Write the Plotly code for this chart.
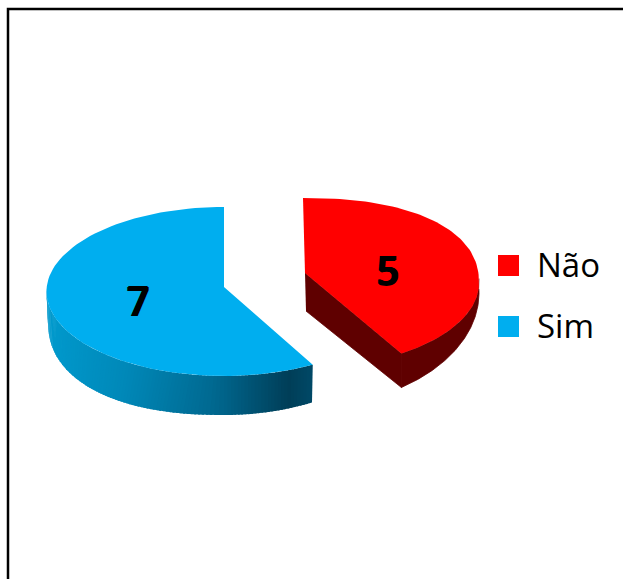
import math
import plotly.graph_objects as go

# ---- data ----
categories = ["Não", "Sim"]
values = [5, 7]

# ---- styles ----
top_colors = ["#FF0000", "#00AEEF"]
RED_WALL = "#5F0000"
BLUE_WALL_STOPS = [(50, (0, 153, 204)), (130, (0, 136, 184)), (213, (0, 106, 146)),
                   (290, (0, 62, 88)), (312, (0, 72, 102))]
FONT = "Open Sans"
W, H = 623, 579

# ---- view geometry of each exploded slice (pixel space) ----
views = {
    "Não": dict(cx=303, cy=283, rx=176, ry=85, ax=305, ay=273, brx=176, bcy=293, bry=114,
                bax=306, bay=311, warp=146 / 150, p_up=0.88, p_bot=1.0),
    "Sim": dict(cx=224, cy=291.5, rx=177.5, ry=84.5, ax=224, ay=287, brx=176, bcy=321, bry=94,
                bax=224, bay=325, warp=1.0, p_up=1.0, p_bot=0.88),
}


def rim(v, deg, bottom):
    t = math.radians(deg)
    s, c = math.sin(t), math.cos(t)
    if bottom:
        p = v["p_bot"] if s < 0 else 1.0      # fuller left flank of the lower rim
        cx, rx, cy, ry = v["cx"], v["brx"], v["bcy"], v["bry"]
    else:
        p = v["p_up"] if c > 0 else 1.0       # fuller far side of the top rim
        cx, rx, cy, ry = v["cx"], v["rx"], v["cy"], v["ry"]
    return (cx + rx * math.copysign(abs(s) ** p, s),
            cy - ry * math.copysign(abs(c) ** p, c))


def arc(v, a0, a1, bottom=False, n=90):
    pts = [rim(v, a0 + (a1 - a0) * i / n, bottom) for i in range(n + 1)]
    return [p[0] for p in pts], [p[1] for p in pts]


def blue_color(x):
    s = BLUE_WALL_STOPS
    if x <= s[0][0]:
        c = s[0][1]
    elif x >= s[-1][0]:
        c = s[-1][1]
    else:
        for (x0, c0), (x1, c1) in zip(s, s[1:]):
            if x0 <= x <= x1:
                f = (x - x0) / (x1 - x0)
                c = tuple(c0[k] + (c1[k] - c0[k]) * f for k in range(3))
                break
    return "rgb(%d,%d,%d)" % tuple(round(k) for k in c)


def poly(xs, ys, color, line=0.0):
    return go.Scatter(x=xs, y=ys, mode="lines", fill="toself", fillcolor=color,
                      line=dict(color=color, width=line), hoverinfo="skip", showlegend=False)


fig = go.Figure()
total = sum(values)
angle = 0.0
spans = []
for cat, val in zip(categories, values):
    spans.append((cat, angle, angle + 360.0 * val / total))
    angle += 360.0 * val / total

for cat, a0, a1 in spans:
    v = views[cat]
    if cat == "Sim":
        # outer wall as gradient strips, drawn left to right so each one covers the seam
        s0, s1 = 272.0, a0
        n = 110
        for i in range(n):
            b0 = s0 + (s1 - s0) * i / n
            b1 = s0 + (s1 - s0) * (i + 1) / n
            if i < n - 1:
                b1 = max(s1, b1 + (s1 - s0) / n * 0.6)
            tx, ty = arc(v, b0, b1, n=2)
            bx, by = arc(v, b0, b1, bottom=True, n=2)
            fig.add_trace(poly(tx + bx[::-1], ty + by[::-1], blue_color(sum(tx) / 3)))
        tx, ty = arc(v, a0, a1)
    else:
        end = a0 + (a1 - a0) * v["warp"]
        tx, ty = arc(v, 88, end)
        bx, by = arc(v, 88, end, bottom=True)
        fig.add_trace(poly(tx + bx[::-1], ty + by[::-1], RED_WALL, 0.8))
        ex, ey = rim(v, end, False)
        fx, fy = rim(v, end, True)
        fig.add_trace(poly([v["ax"], ex, fx, v["bax"]], [v["ay"], ey, fy, v["bay"]], RED_WALL, 0.8))
        tx, ty = arc(v, a0, end)
    color = top_colors[categories.index(cat)]
    fig.add_trace(poly(tx + [v["ax"]], ty + [v["ay"]], color))

# value labels at half radius of each slice
for (cat, a0, a1), val in zip(spans, values):
    v = views[cat]
    t = math.radians((a0 + a1) / 2)
    fig.add_trace(go.Scatter(x=[v["cx"] + 0.5 * v["rx"] * math.sin(t)],
                             y=[v["cy"] - 0.5 * v["ry"] * math.cos(t) + 3.5],
                             mode="text", text=[str(val)], textposition="middle center",
                             textfont=dict(family=FONT, size=39, color="#000000", weight=600,
                                           shadow="1px 0 0 #000, -1px 0 0 #000, 0 0.6px 0 #000, 0 -0.6px 0 #000"),
                             hoverinfo="skip", showlegend=False))

# legend keys
LEG_Y0, LEG_DY = 265.5, 61
for i, cat in enumerate(categories):
    y = LEG_Y0 + LEG_DY * i
    fig.add_trace(go.Scatter(x=[508.5], y=[y], mode="markers",
                             marker=dict(symbol="square", size=21, color=top_colors[i]),
                             hoverinfo="skip", showlegend=False))
    fig.add_annotation(x=537, y=y - 1, xref="x", yref="y", text=cat, showarrow=False,
                       xanchor="left", yanchor="middle", xshift=-2,
                       font=dict(family=FONT, size=33, color="#000000"))

fig.update_layout(
    width=W, height=H, margin=dict(l=0, r=0, t=0, b=0),
    paper_bgcolor="white", plot_bgcolor="white", showlegend=False,
    xaxis=dict(range=[0, W], visible=False, fixedrange=True),
    yaxis=dict(range=[H, 0], visible=False, fixedrange=True),
    shapes=[dict(type="path", path=f"M 8 {H} L 8 9 L {W} 9", xref="x", yref="y",
                 line=dict(color="#000000", width=2.5))],
)
fig.write_html("out.html", config=dict(displayModeBar=False),
               post_script="document.body.style.margin='0';document.documentElement.style.overflow='hidden';")
